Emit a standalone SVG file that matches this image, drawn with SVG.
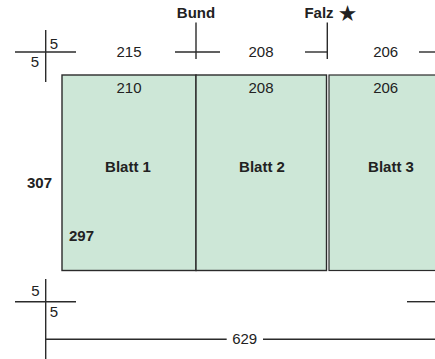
<svg xmlns="http://www.w3.org/2000/svg" width="435" height="359" viewBox="0 0 435 359">
<style>
.ln{stroke:#2b2b2b;stroke-width:1.4;fill:none}
.t{font-family:"Liberation Sans",Arial,sans-serif;font-size:15px;fill:#222;text-anchor:middle}
.b{font-weight:bold}
.sheet{fill:#cde7d7;stroke:#2b2b2b;stroke-width:1.4}
</style>
<rect width="435" height="359" fill="#fff"/>
<g id="blatt1">
<rect class="sheet" x="62" y="75" width="134" height="195.5"/>
<text class="t" x="129" y="93">210</text>
<text class="t b" x="128" y="171.5">Blatt 1</text>
<text class="t b" x="81.5" y="241">297</text>
</g>
<g id="blatt2">
<rect class="sheet" x="196" y="75" width="130.5" height="195.5"/>
<text class="t" x="261" y="93">208</text>
<text class="t b" x="262" y="172">Blatt 2</text>
</g>
<g id="blatt3">
<rect class="sheet" x="329" y="75" width="120" height="195.5" style="stroke-width:1.2"/>
<text class="t" x="385.7" y="93">206</text>
<text class="t b" x="391" y="172">Blatt 3</text>
</g>
<g id="connectors">
<line class="ln" x1="15" y1="52" x2="76" y2="52"/>
<line class="ln" x1="45.7" y1="30" x2="45.7" y2="82"/>
<line class="ln" x1="175" y1="52" x2="220" y2="52"/>
<line class="ln" x1="196" y1="22.5" x2="196" y2="59"/>
<line class="ln" x1="305" y1="52" x2="327.3" y2="52"/>
<line class="ln" x1="327.3" y1="22.5" x2="327.3" y2="59"/>
<line class="ln" x1="419" y1="52" x2="435" y2="52"/>
<line class="ln" x1="15" y1="301.7" x2="76" y2="301.7"/>
<line class="ln" x1="45.7" y1="279" x2="45.7" y2="359"/>
<line class="ln" x1="45.7" y1="339.3" x2="226.7" y2="339.3"/>
<line class="ln" x1="263" y1="339.3" x2="435" y2="339.3"/>
<line class="ln" x1="407" y1="301.7" x2="435" y2="301.7"/>
</g>
<g id="labels">
<text class="t b" x="196" y="18">Bund</text>
<text class="t b" x="319" y="18">Falz</text>
<text class="t b" x="347" y="20" style="font-size:19px">★</text>
<text class="t" x="54" y="49">5</text>
<text class="t" x="35" y="67">5</text>
<text class="t" x="129" y="56.5">215</text>
<text class="t" x="261" y="56.5">208</text>
<text class="t" x="385.7" y="56.5">206</text>
<text class="t b" x="39.5" y="188.3">307</text>
<text class="t" x="35.3" y="296">5</text>
<text class="t" x="54" y="316.5">5</text>
<text class="t" x="244.7" y="344">629</text>
</g>
</svg>
